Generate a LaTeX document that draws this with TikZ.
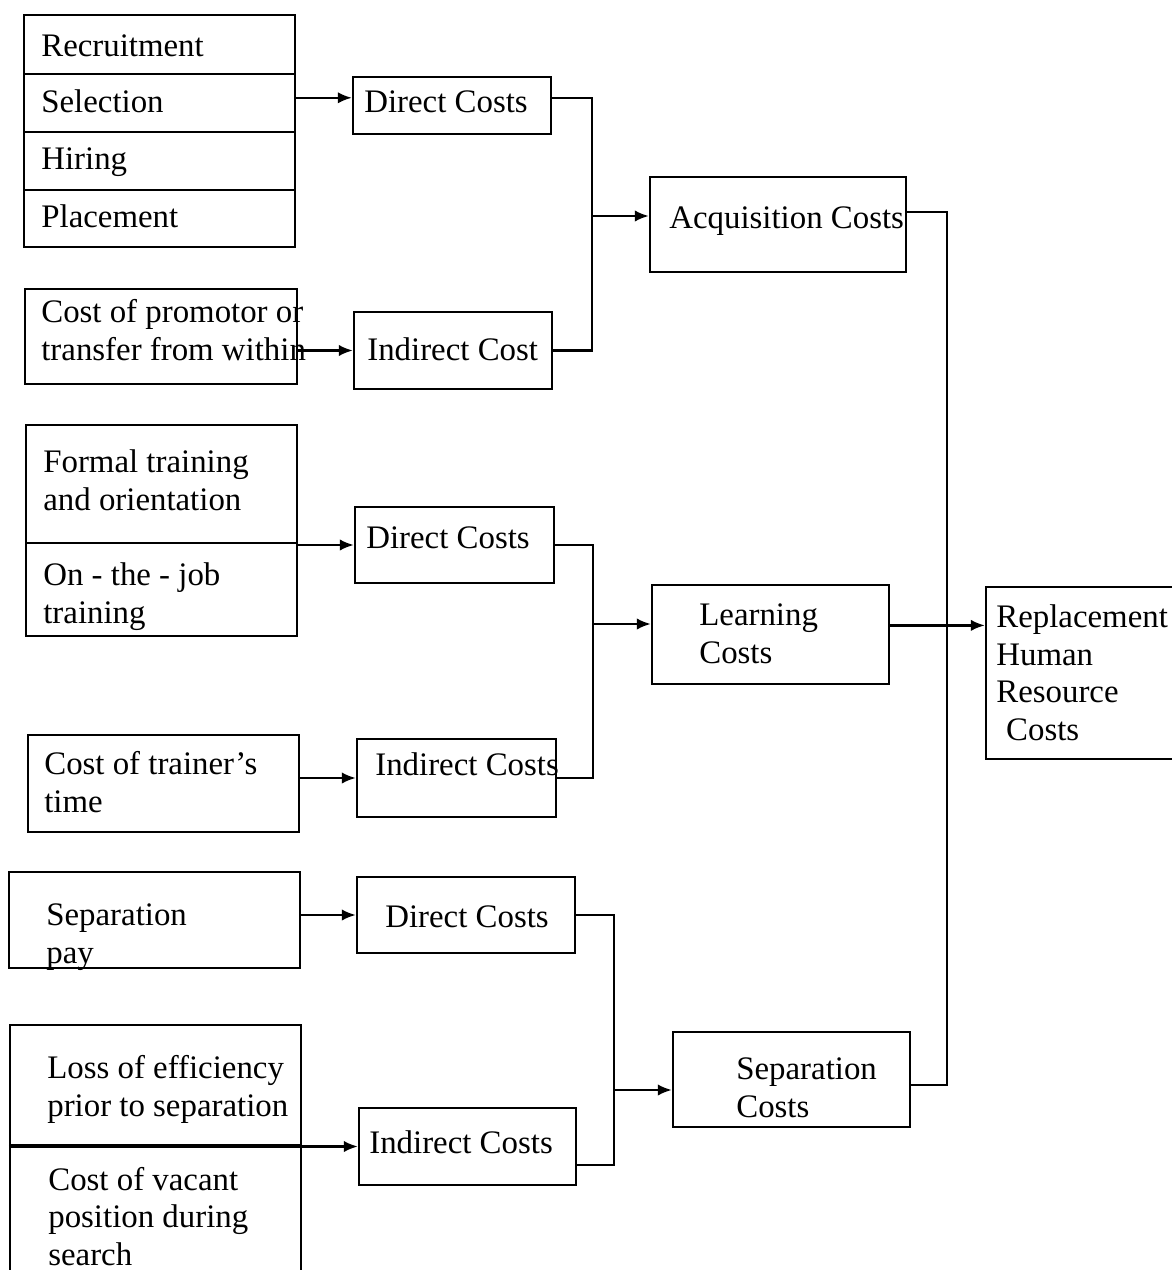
\documentclass[tikz,border=0pt]{standalone}
\usepackage{fontspec}
\setmainfont{Liberation Serif}
\usetikzlibrary{positioning,fit,calc,arrows.meta}
\tikzset{
  box/.style={draw, line width=1.3pt, inner sep=0pt},
  txt/.style={anchor=base west, align=left, inner sep=0pt, font=\fontsize{18.7}{21.3}\selectfont},
  wire/.style={line width=1.3pt},
  arr/.style={line width=1.3pt, -{Latex[length=8pt,width=6.5pt]}}
}
\begin{document}
\begin{tikzpicture}[x=0.02cm,y=-0.02cm]
\useasboundingbox (0,0) rectangle (1171,1270);
% Acquisition costs
\node[box, fit={(24,15) (295,74)}] (rec) {};
\node[box, fit={(24,74) (295,132)}] (sel) {};
\node[box, fit={(24,132) (295,190)}] (hir) {};
\node[box, fit={(24,190) (295,247)}] (pla) {};
\node[box, fit={(353,77) (551,134)}] (dc1) {};
\node[box, fit={(25,289) (297,384)}] (promo) {};
\node[box, fit={(354,312) (552,389)}] (ic1) {};
\node[box, fit={(650,177) (906,272)}] (acq) {};
\node[txt] (recT) at (41,57) {Recruitment};
\node[txt] (selT) at (41,113) {Selection};
\node[txt] (hirT) at (41,170) {Hiring};
\node[txt] (plaT) at (41,228) {Placement};
\node[txt] (dc1T) at (364,113) {Direct Costs};
\node[txt] (promoT) at (41,360) {Cost of promotor or\\transfer from within};
\node[txt] (ic1T) at (367,360) {Indirect Cost};
\node[txt] (acqT) at (669,229) {Acquisition Costs};
\coordinate (dc1in) at ($(dc1.north west)!0.37!(dc1.south west)$);
\coordinate (dc1out) at ($(dc1.north east)!0.37!(dc1.south east)$);
\coordinate (busA) at (592,216);
\draw[arr] (dc1in -| sel.east) -- (dc1in);
\draw[arr] (ic1.west -| promo.east) -- (ic1.west);
\draw[wire] (dc1out) -| (busA) |- (ic1.east);
\draw[arr] (busA) -- (busA -| acq.west);
% Learning costs
\node[box, fit={(26,425) (297,543)}] (form) {};
\node[box, fit={(26,543) (297,636)}] (ojt) {};
\node[box, fit={(355,507) (554,583)}] (dc2) {};
\node[box, fit={(28,735) (299,832)}] (trn) {};
\node[box, fit={(357,739) (556,817)}] (ic2) {};
\node[box, fit={(652,585) (889,684)}] (learn) {};
\node[txt] (formT) at (43,510) {Formal training\\and orientation};
\node[txt] (ojtT) at (43,623) {On - the - job\\training};
\node[txt] (dc2T) at (366,548) {Direct Costs};
\node[txt] (trnT) at (44,812) {Cost of trainer’s\\time};
\node[txt] (ic2T) at (375,775) {Indirect Costs};
\node[txt] (learnT) at (699,663) {Learning\\Costs};
\coordinate (busL) at (593,624);
\draw[arr] (dc2.west -| ojt.east) -- (dc2.west);
\draw[arr] (ic2.west -| trn.east) -- (ic2.west);
\draw[wire] (dc2.east) -| (busL) |- (ic2.east);
\draw[arr] (busL) -- (busL -| learn.west);
% Separation costs
\node[box, fit={(9,872) (300,968)}] (spay) {};
\node[box, fit={(357,877) (575,953)}] (dc3) {};
\node[box, fit={(10,1025) (301,1145)}] (loss) {};
\node[box, fit={(10,1145) (301,1295)}] (vac) {};
\node[box, fit={(359,1108) (576,1185)}] (ic3) {};
\node[box, fit={(673,1032) (910,1127)}] (sepc) {};
\node[txt] (spayT) at (46,963) {Separation\\pay};
\node[txt] (dc3T) at (385,927) {Direct Costs};
\node[txt] (lossT) at (47,1116) {Loss of efficiency\\prior to separation};
\node[txt] (vacT) at (48,1265) {Cost of vacant\\position during\\search};
\node[txt] (ic3T) at (369,1153) {Indirect Costs};
\node[txt] (sepcT) at (736,1117) {Separation\\Costs};
\coordinate (ic3out) at ($(ic3.south east)!0.27!(ic3.north east)$);
\coordinate (busS) at (614,1090);
\draw[arr] (dc3.west -| spay.east) -- (dc3.west);
\draw[arr] (ic3.west -| loss.west) -- (ic3.west);
\draw[wire] (dc3.east) -| (busS) |- (ic3out);
\draw[arr] (busS) -- (busS -| sepc.west);
% Replacement costs
\node[box, fit={(986,587) (1185,759)}] (repl) {};
\node[txt] (replT) at (996,740) {Replacement\\Human\\Resource\\\hspace*{0.3em}Costs};
\coordinate (acqout) at ($(acq.north east)!0.37!(acq.south east)$);
\coordinate (sepcout) at ($(sepc.north east)!0.56!(sepc.south east)$);
\coordinate (lout) at ($(learn.north east)!0.41!(learn.south east)$);
\coordinate (busR) at (947,625);
\draw[wire] (acqout) -| (busR) |- (sepcout);
\draw[arr] (lout) -- (lout -| repl.west);
\end{tikzpicture}
\end{document}
